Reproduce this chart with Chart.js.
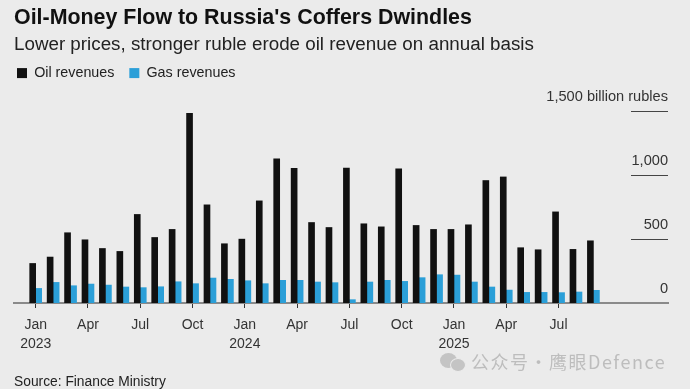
<!DOCTYPE html>
<html><head><meta charset="utf-8">
<script src="https://cdn.jsdelivr.net/npm/chart.js@4"></script>
<style>
html,body{margin:0;padding:0;background:#ebebeb;overflow:hidden}
#w{position:relative;width:690px;height:389px;overflow:hidden}
canvas{position:absolute;left:0;top:0}
.t{position:absolute;font-family:"Liberation Sans",sans-serif;white-space:nowrap}
#src{left:14px;top:374px;font-size:13.8px;color:#222}
#wm{left:471px;top:348px;font-size:18px;color:#bdbdbd;letter-spacing:1.5px;font-family:"Noto Sans CJK SC","Liberation Sans",sans-serif}
.c{position:absolute;background:#c4c4c4;border-radius:50%}
</style></head><body>
<div id="w"><canvas id="c" width="690" height="389"></canvas>
<div class="c" style="left:440px;top:353px;width:17px;height:15px"></div>
<div class="c" style="left:451px;top:359px;width:14px;height:12px;border:1px solid #ebebeb;margin:-1px"></div>
<div class="t" id="wm">公众号·鹰眼Defence</div>
<div class="t" id="src">Source: Finance Ministry</div></div>
<script>
const oilRevenues=[309,359,549,494,426,403,692,512,575,1482,767,463,499,798,1126,1053,629,590,1055,619,595,1048,606,575,575,611,957,985,432,416,712,419,486];
const gasRevenues=[114,161,135,148,140,125,120,127,166,151,195,185,174,151,177,177,164,159,26,164,177,169,198,221,218,164,125,101,83,83,81,86,99];
const xTickMonths=[0,3,6,9,12,15,18,21,24,27,30];
const xTickLabels=[['Jan','2023'],'Apr','Jul','Oct',['Jan','2024'],'Apr','Jul','Oct',['Jan','2025'],'Apr','Jul'];
const yTickLabels={0:'0',500:'500',1000:'1,000',1500:'1,500 billion rubles'};
const F='"Liberation Sans",sans-serif';
const toPts=a=>a.map((v,i)=>({x:i,y:v}));
const legendSpace={id:'legendSpace',beforeInit(ch){const f=ch.legend.fit;ch.legend.fit=function(){f.call(this);this.height+=20.8;};}};
const shortGrid={id:'shortGrid',afterDatasetsDraw(ch){const y=ch.scales.y,c=ch.ctx,r=ch.chartArea.right;c.save();c.strokeStyle='#444';c.lineWidth=1;
 [500,1000,1500].forEach(v=>{const p=Math.round(y.getPixelForValue(v))+.5;c.beginPath();c.moveTo(r-37,p);c.lineTo(r,p);c.stroke();});c.restore();}};
new Chart(document.getElementById('c'),{type:'bar',
data:{datasets:[
 {label:'Oil revenues',data:toPts(oilRevenues),backgroundColor:'#111111',barThickness:6},
 {label:'Gas revenues',data:toPts(gasRevenues),backgroundColor:'#2b9fd8',barThickness:6}]},
plugins:[legendSpace,shortGrid],
options:{responsive:false,animation:false,
 layout:{padding:{left:14,right:22,top:0,bottom:0}},
 plugins:{
  title:{display:true,text:"Oil-Money Flow to Russia's Coffers Dwindles",align:'start',color:'#111',font:{family:F,size:21.4,weight:'bold',lineHeight:1.2},padding:{top:5,bottom:3}},
  subtitle:{display:true,text:'Lower prices, stronger ruble erode oil revenue on annual basis',align:'start',color:'#222',font:{family:F,size:18.8,weight:'normal',lineHeight:1.2},padding:{top:0,bottom:6.7}},
  legend:{position:'top',align:'start',labels:{boxWidth:10,boxHeight:10,padding:3,color:'#222',font:{family:F,size:14.3},
    generateLabels(ch){return Chart.defaults.plugins.legend.labels.generateLabels(ch).map(l=>({...l,text:l.text+'   '}));}}},
  tooltip:{enabled:false}},
 scales:{
  x:{type:'linear',offset:false,min:-1.245,max:36.28,bounds:'data',
   afterBuildTicks(s){s.ticks=xTickMonths.map(v=>({value:v}));},
   afterFit(s){s.height=86;},
   border:{display:true,color:'#8a8a8a',width:2},
   grid:{offset:false,drawOnChartArea:false,drawTicks:true,tickLength:5,tickColor:'#333',tickWidth:1},
   ticks:{autoSkip:false,maxRotation:0,padding:8,color:'#333',font:{family:F,size:14,lineHeight:1.36},
    callback(v,i){return xTickLabels[i];}}},
  y:{position:'right',min:0,max:1500,
   afterFit(s){s.width=0;},
   border:{display:false},grid:{display:false},
   ticks:{stepSize:500,mirror:true,padding:0,labelOffset:-14,color:'#333',font:{family:F,size:14.6},
    callback(v){return yTickLabels[v]??'';}}}
 }}});
</script></body></html>
